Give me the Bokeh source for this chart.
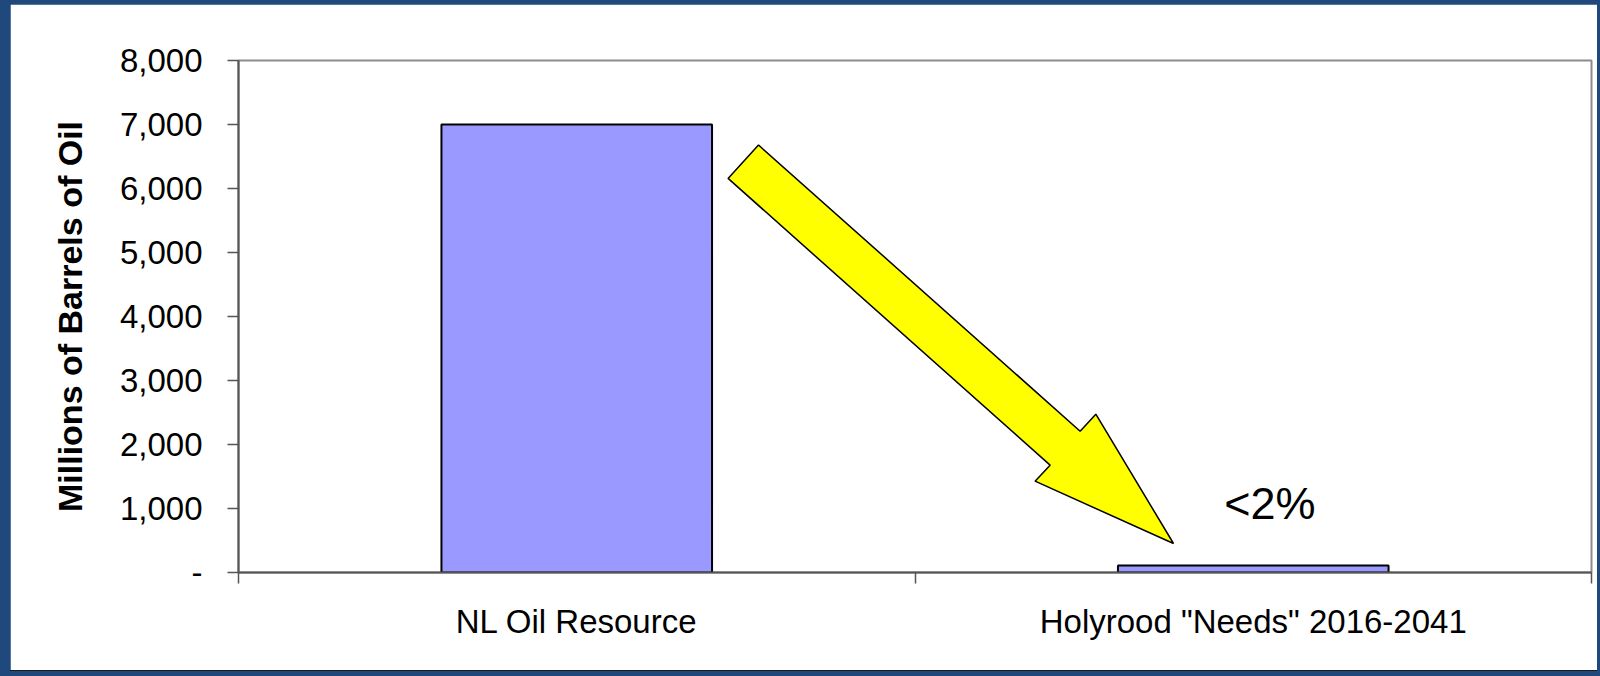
import numpy as np
from bokeh.plotting import figure
from bokeh.models import FixedTicker, Range1d, NumeralTickFormatter
from bokeh.core.properties import value
from bokeh.embed import file_html
from bokeh.resources import INLINE

# ---- data ----
categories = ["NL Oil Resource", 'Holyrood "Needs" 2016-2041']
barrels = [7000, 110]          # millions of barrels of oil
y_ticks = [0, 1000, 2000, 3000, 4000, 5000, 6000, 7000, 8000]
y_tick_labels = ["-", "1,000", "2,000", "3,000", "4,000", "5,000", "6,000", "7,000", "8,000"]
y_title = "Millions of Barrels of Oil"
note_text = "<2%"
note_pos = (1.5245, 1083)
# block-arrow annotation outline (category units, barrels)
arrow_x = [0.7687, 1.2441, 1.2673, 1.3821, 1.1775, 1.1997, 0.7237]
arrow_y = [6679, 2208, 2474, 453, 1427, 1677, 6158]

centers = [i + 0.5 for i in range(len(categories))]
bounds = list(range(len(categories) + 1))

FONT = "Liberation Sans"

p = figure(width=1587, height=666,
           x_range=Range1d(0, len(categories)), y_range=Range1d(0, 8000),
           output_backend="svg", toolbar_location=None,
           min_border_left=228, min_border_right=6,
           min_border_top=56, min_border_bottom=98,
           background_fill_color="white", border_fill_color="white")
p.styles = {"outline": "1px solid #1a1a1a"}
p.grid.visible = False
p.outline_line_color = "#8c8c8c"
p.outline_line_width = 2

p.vbar(x=centers, top=barrels, bottom=0, width=0.4,
       fill_color="#9999FF", line_color="black", line_width=2)

p.patch(arrow_x, arrow_y, fill_color="#FFFF00", line_color="black", line_width=1.5)

p.text(x=[note_pos[0]], y=[note_pos[1]], text=[note_text],
       text_font=value(FONT), text_font_size="45px", text_color="black",
       text_align="center", text_baseline="alphabetic")

# y axis
ya = p.yaxis[0]
ya.ticker = FixedTicker(ticks=y_ticks)
ya.formatter = NumeralTickFormatter(format="0,0")
ya.major_label_overrides = {t: lab for t, lab in zip(y_ticks, y_tick_labels)}
ya.major_tick_out = 11
ya.major_tick_in = 0
ya.minor_tick_out = 0
ya.minor_tick_in = 0
ya.major_label_standoff = 25
ya.major_label_text_font = FONT
ya.major_label_text_font_size = "33px"
ya.major_label_text_color = "black"
ya.axis_label = y_title
ya.axis_label_text_font = FONT
ya.axis_label_text_font_style = "bold"
ya.axis_label_text_font_size = "34px"
ya.axis_label_text_color = "black"
ya.axis_label_standoff = 28
ya.axis_line_color = "#555555"
ya.axis_line_width = 2
ya.major_tick_line_color = "#555555"
ya.major_tick_line_width = 1.5

# x axis
xa = p.xaxis[0]
xa.ticker = FixedTicker(ticks=centers, minor_ticks=bounds)
xa.major_label_overrides = {c: lab for c, lab in zip(centers, categories)}
xa.major_tick_out = 0
xa.major_tick_in = 0
xa.minor_tick_out = 11
xa.minor_tick_in = 0
xa.major_label_standoff = 19
xa.major_label_text_font = FONT
xa.major_label_text_font_size = "33px"
xa.major_label_text_color = "black"
xa.axis_line_color = "#555555"
xa.axis_line_width = 2
xa.minor_tick_line_color = "#555555"
xa.minor_tick_line_width = 1.5

html = file_html(p, INLINE, title="chart")
style = ("<style>html{background:#1F497D;}"
         "body{margin:4px 3px 6px 10px;padding:0;background:#1F497D;overflow:hidden;}</style>")
html = html.replace("</head>", style + "</head>", 1)
open("out.html", "w").write(html)
